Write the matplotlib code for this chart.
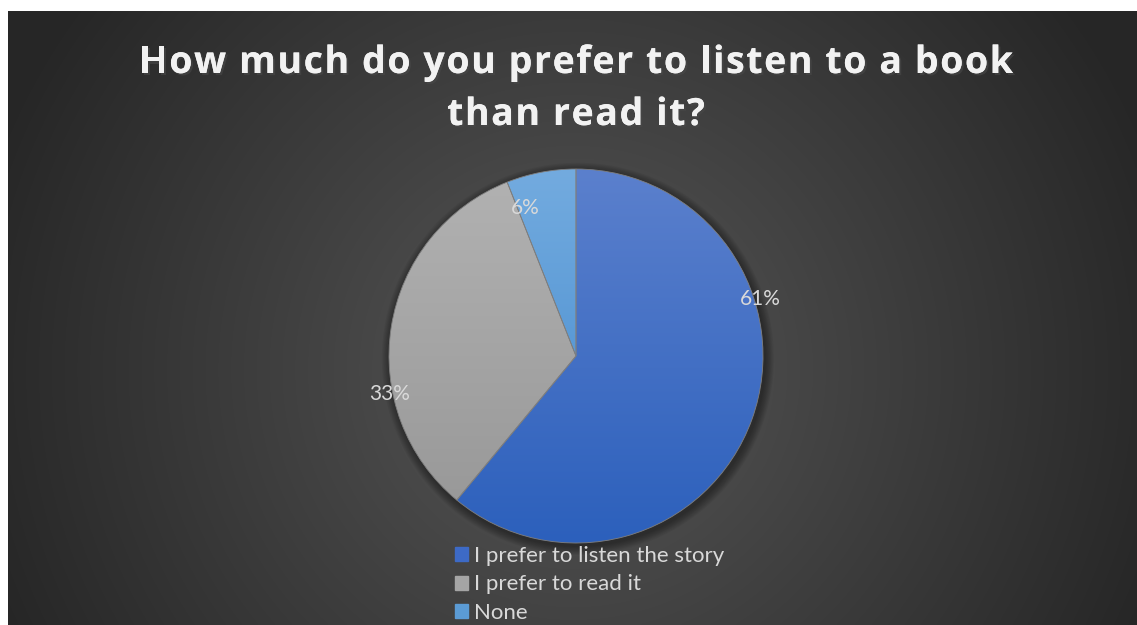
import matplotlib.pyplot as plt
import numpy as np
from matplotlib import patheffects
from matplotlib.colors import to_rgb
from matplotlib.font_manager import FontProperties, findfont, get_font
from matplotlib.patches import Rectangle

title_lines = ["How much do you prefer to listen to a book", "than read it?"]
categories = ["I prefer to listen the story", "I prefer to read it", "None"]
shares = [61, 33, 6]
# top / bottom colours of each slice's vertical gradient
top_colors = ["#5b80cd", "#b2b2b2", "#73abdf"]
bottom_colors = ["#2c60bc", "#969696", "#3f87cc"]
legend_colors = ["#3d6ac6", "#a5a5a5", "#5b9bd5"]
# label anchors in pie units (radius = 1)
label_pos = [(0.985, 0.305), (-0.995, -0.205), (-0.27, 0.79)]

W, H = 1137, 625
fig = plt.figure(figsize=(W / 100, H / 100), dpi=100, facecolor="white")

# dark radial-gradient background
bg = fig.add_axes([8 / W, 0, 1 - 8 / W, 1 - 11 / H])
bg.set_axis_off()
yy, xx = np.mgrid[0:300, 0:600]
d = np.sqrt(((xx - 300) / 330) ** 2 + ((yy - 175) / 300) ** 2)
lum = 0.34 - 0.19 * np.clip(d, 0, 1)
bg.imshow(np.dstack([lum, lum, lum]), aspect="auto", extent=[0, 1, 0, 1],
          interpolation="bilinear")
bg.set_xlim(0, 1)
bg.set_ylim(0, 1)

# pie
R = 187
cxp, cyp = 576, H - 356
half = 215
ax = fig.add_axes([(cxp - half) / W, (cyp - half) / H, 2 * half / W, 2 * half / H])
ax.set_axis_off()
lim = half / R

# soft shadow
for k in range(8):
    ax.add_patch(plt.Circle((0.01, -0.015), 1 + 0.006 * (8 - k), color="black",
                            alpha=0.05, lw=0, zorder=0))

wedges, _ = ax.pie(shares, startangle=90, counterclock=False, radius=1,
                   wedgeprops=dict(edgecolor="#7f7f7f", linewidth=0.6))
t = np.linspace(0, 1, 256)[:, None]
for w, c1, c2 in zip(wedges, top_colors, bottom_colors):
    w.set_facecolor("none")
    w.set_zorder(3)
    a, b = np.array(to_rgb(c1)), np.array(to_rgb(c2))
    grad = (a * (1 - t) + b * t)[:, None, :]
    im = ax.imshow(grad, extent=[-1, 1, -1, 1], aspect="auto", zorder=2,
                   interpolation="bilinear")
    im.set_clip_path(w)
ax.set_xlim(-lim, lim)
ax.set_ylim(-lim, lim)

for (lx, ly), v in zip(label_pos, shares):
    ax.text(lx, ly, f"{v}%", ha="center", va="center", color="#d9d9d9",
            fontsize=15, family="Lato", zorder=5)


# title with expanded letter spacing (drawn char by char)
def char_advances(text, prop):
    font = get_font(findfont(prop))
    font.set_size(prop.get_size_in_points(), 100)
    return [font.load_char(ord(ch)).linearHoriAdvance / 65536 for ch in text]


tprop = FontProperties(family="Open Sans", weight="bold", size=27)
shadow = [patheffects.withSimplePatchShadow(offset=(1.5, -1.5), alpha=0.6),
          patheffects.Normal()]
first = char_advances(title_lines[0], tprop)
spacing = (874 - sum(first)) / (len(title_lines[0]) - 1)
for line, base in zip(title_lines, [73, 125]):
    adv = char_advances(line, tprop)
    x = 576 - (sum(adv) + spacing * (len(line) - 1)) / 2
    for ch, a in zip(line, adv):
        fig.text(x / W, 1 - base / H, ch, ha="left", va="baseline",
                 fontproperties=tprop, color="#f2f2f2", path_effects=shadow)
        x += a + spacing

# legend
handles = [Rectangle((0, 0), 1, 1, color=c) for c in legend_colors]
fig.legend(handles, categories, loc="upper left",
           bbox_to_anchor=(455 / W, 1 - 546 / H), frameon=False,
           prop=dict(family="Lato", size=16), labelcolor="#d9d9d9",
           handlelength=0.6, handleheight=0.6, handletextpad=0.25,
           labelspacing=0.38, borderpad=0, borderaxespad=0)

fig.savefig("out.png", dpi=100, facecolor="white")
